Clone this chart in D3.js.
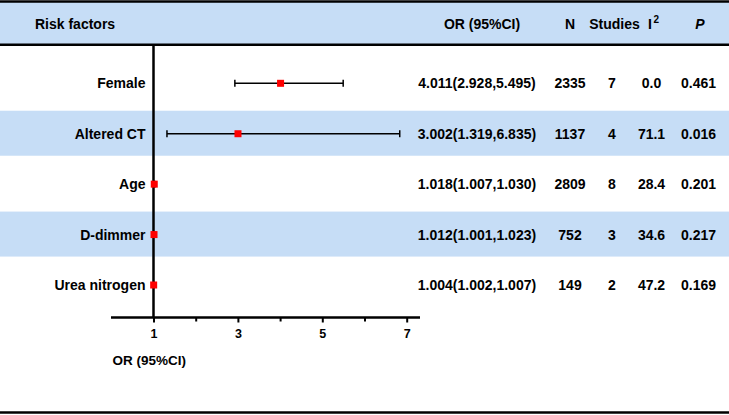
<!DOCTYPE html>
<html>
<head>
<meta charset="utf-8">
<script src="https://cdn.jsdelivr.net/npm/d3@7/dist/d3.min.js"></script>
<style>
  html, body { margin: 0; padding: 0; background: #fff; }
  svg { display: block; }
  text { font-family: "Liberation Sans", Arial, sans-serif; font-weight: bold; fill: #000; }
</style>
</head>
<body>
<svg id="chart" width="729" height="415"></svg>
<script>
const factors = ["Female", "Altered CT", "Age", "D-dimmer", "Urea nitrogen"];
const orValues = [4.011, 3.002, 1.018, 1.012, 1.004];
const ciLower = [2.928, 1.319, 1.007, 1.001, 1.002];
const ciUpper = [5.495, 6.835, 1.030, 1.023, 1.007];
const nValues = [2335, 1137, 2809, 752, 149];
const studies = [7, 4, 8, 3, 2];
const i2Values = ["0.0", "71.1", "28.4", "34.6", "47.2"];
const pValues = ["0.461", "0.016", "0.201", "0.217", "0.169"];
const majorTicks = [1, 3, 5, 7];
const minorTicks = [2, 4, 6];

const W = 729, H = 415;
const svg = d3.select("#chart");
const blue = "#c6ddf6";

const x = d3.scaleLinear().domain([1, 7]).range([153.5, 406.7]);
const y = d3.scalePoint().domain(factors).range([83.3, 285]);

// header
svg.append("rect").attr("x", 0).attr("y", 2).attr("width", W).attr("height", 42).attr("fill", blue);
svg.append("line").attr("x1", 0).attr("x2", W).attr("y1", 1.5).attr("y2", 1.5).attr("stroke", "#000").attr("stroke-width", 2.5);
svg.append("line").attr("x1", 0).attr("x2", W).attr("y1", 44.7).attr("y2", 44.7).attr("stroke", "#000").attr("stroke-width", 2.5);
svg.append("line").attr("x1", 0).attr("x2", W).attr("y1", 412.5).attr("y2", 412.5).attr("stroke", "#000").attr("stroke-width", 2.5);

const hy = 29;
const hdr = svg.append("g").style("font-size", "14px");
hdr.append("text").attr("x", 35).attr("y", hy).text("Risk factors");
hdr.append("text").attr("x", 482).attr("y", hy).attr("text-anchor", "middle").text("OR (95%CI)");
hdr.append("text").attr("x", 570).attr("y", hy).attr("text-anchor", "middle").text("N");
hdr.append("text").attr("x", 614.5).attr("y", hy).attr("text-anchor", "middle").text("Studies");
const i2h = hdr.append("text").attr("x", 648).attr("y", hy);
i2h.append("tspan").text("I");
i2h.append("tspan").attr("dx", 1.5).attr("dy", -6).style("font-size", "10px").text("2");
hdr.append("text").attr("x", 700).attr("y", hy).attr("text-anchor", "middle").style("font-style", "italic").text("P");

// row bands
svg.append("g").selectAll("rect").data(factors.filter((d, i) => i % 2 === 1)).join("rect")
  .attr("x", 0).attr("width", W)
  .attr("y", d => y(d) - 23).attr("height", 45)
  .attr("fill", blue);

// axes
const axisY = 317.5;
svg.append("line").attr("x1", x(1)).attr("x2", x(1)).attr("y1", 46).attr("y2", axisY)
  .attr("stroke", "#000").attr("stroke-width", 2.5);
svg.append("line").attr("x1", 111).attr("x2", 420).attr("y1", axisY).attr("y2", axisY)
  .attr("stroke", "#000").attr("stroke-width", 2.5);

const gMaj = svg.append("g").attr("transform", `translate(0,${axisY})`)
  .call(d3.axisBottom(x).tickValues(majorTicks).tickSize(5).tickPadding(7).tickFormat(d3.format("d")));
gMaj.select(".domain").remove();
gMaj.selectAll(".tick line").attr("stroke", "#000").attr("stroke-width", 2);
gMaj.selectAll(".tick text").style("font-size", "12.5px").style("font-family", "\"Liberation Sans\", Arial, sans-serif").style("font-weight", "bold").attr("fill", "#000");

const gMin = svg.append("g").attr("transform", `translate(0,${axisY})`)
  .call(d3.axisBottom(x).tickValues(minorTicks).tickSize(4).tickFormat(""));
gMin.select(".domain").remove();
gMin.selectAll(".tick line").attr("stroke", "#000").attr("stroke-width", 2);

svg.append("text").attr("x", 112.5).attr("y", 365).style("font-size", "13.5px").text("OR (95%CI)");

// error bars
const rows = svg.append("g").selectAll("g").data(factors).join("g");
rows.append("line")
  .attr("x1", (d, i) => x(ciLower[i])).attr("x2", (d, i) => x(ciUpper[i]))
  .attr("y1", d => y(d)).attr("y2", d => y(d))
  .attr("stroke", "#000").attr("stroke-width", 1.5);
rows.append("line")
  .attr("x1", (d, i) => x(ciLower[i])).attr("x2", (d, i) => x(ciLower[i]))
  .attr("y1", d => y(d) - 3.5).attr("y2", d => y(d) + 3.5)
  .attr("stroke", "#000").attr("stroke-width", 1.5);
rows.append("line")
  .attr("x1", (d, i) => x(ciUpper[i])).attr("x2", (d, i) => x(ciUpper[i]))
  .attr("y1", d => y(d) - 3.5).attr("y2", d => y(d) + 3.5)
  .attr("stroke", "#000").attr("stroke-width", 1.5);
rows.append("rect")
  .attr("x", (d, i) => x(orValues[i]) - 3.5).attr("y", d => y(d) - 3.5)
  .attr("width", 7).attr("height", 7).attr("fill", "#ff0000");

// labels and table
const ts = rows.append("g").style("font-size", "14px");
ts.append("text").attr("x", 145.5).attr("y", d => y(d) + 5).attr("text-anchor", "end").text(d => d);
ts.append("text").attr("x", 477).attr("y", d => y(d) + 5).attr("text-anchor", "middle")
  .text((d, i) => `${orValues[i].toFixed(3)}(${ciLower[i].toFixed(3)},${ciUpper[i].toFixed(3)})`);
ts.append("text").attr("x", 570).attr("y", d => y(d) + 5).attr("text-anchor", "middle").text((d, i) => nValues[i]);
ts.append("text").attr("x", 612).attr("y", d => y(d) + 5).attr("text-anchor", "middle").text((d, i) => studies[i]);
ts.append("text").attr("x", 651.5).attr("y", d => y(d) + 5).attr("text-anchor", "middle").text((d, i) => i2Values[i]);
ts.append("text").attr("x", 698.5).attr("y", d => y(d) + 5).attr("text-anchor", "middle").text((d, i) => pValues[i]);
</script>
</body>
</html>
